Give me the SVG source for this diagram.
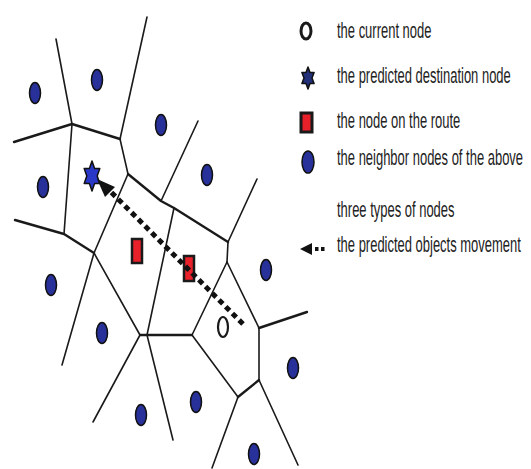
<svg xmlns="http://www.w3.org/2000/svg" width="531" height="469" viewBox="0 0 531 469">
<style>
.thin{stroke:#1a1a1a;stroke-width:1.6;fill:none;stroke-linecap:round;stroke-linejoin:round}
.thick{stroke:#1a1a1a;stroke-width:2.4;fill:none;stroke-linecap:round;stroke-linejoin:round}
.nb{fill:#28309a;stroke:#111;stroke-width:1.5}
.route{fill:#e8202a;stroke:#1a1a1a;stroke-width:2.5}
.cur{fill:none;stroke:#1a1a1a;stroke-width:2.2}
.dest{fill:#2a38c8;stroke:#111;stroke-width:1.5;stroke-linejoin:round}
.lbl{font-family:"Liberation Sans",Arial,sans-serif;font-size:22px;fill:#222}
.dash{stroke:#111;stroke-width:5;stroke-dasharray:5.5 4;fill:none}
</style>
<rect width="531" height="469" fill="#fff"/>
<g id="connectors">
<line class="thin" x1="56" y1="39" x2="72" y2="124"/>
<line class="thin" x1="147" y1="17" x2="120" y2="139"/>
<polyline class="thick" points="14,142 72,124 120,139"/>
<line class="thin" x1="72" y1="124" x2="64" y2="234"/>
<line class="thin" x1="120" y1="139" x2="128" y2="174"/>
<polyline class="thick" points="128,174 161,201 174,208 228,242"/>
<line class="thin" x1="128" y1="174" x2="94" y2="253"/>
<line class="thin" x1="161" y1="201" x2="198" y2="121"/>
<line class="thin" x1="257" y1="179" x2="228" y2="242"/>
<line class="thin" x1="174" y1="208" x2="147" y2="335"/>
<polyline class="thick" points="15,220 64,234 94,253"/>
<line class="thin" x1="94" y1="253" x2="62" y2="365"/>
<line class="thin" x1="94" y1="253" x2="140" y2="335"/>
<line class="thick" x1="140" y1="335" x2="192" y2="335"/>
<line class="thin" x1="140" y1="335" x2="93" y2="422"/>
<line class="thin" x1="147" y1="335" x2="173" y2="440"/>
<line class="thin" x1="192" y1="335" x2="227" y2="262"/>
<line class="thin" x1="227" y1="262" x2="228" y2="242"/>
<line class="thin" x1="227" y1="262" x2="259" y2="328"/>
<line class="thick" x1="259" y1="328" x2="307" y2="312"/>
<line class="thin" x1="259" y1="328" x2="259" y2="380"/>
<line class="thin" x1="192" y1="335" x2="238" y2="397"/>
<line class="thick" x1="238" y1="397" x2="259" y2="380"/>
<line class="thin" x1="238" y1="397" x2="212" y2="468"/>
<line class="thin" x1="259" y1="380" x2="298" y2="465"/>
</g>
<g id="neighbors">
<ellipse class="nb" cx="35" cy="93" rx="5.5" ry="10.5"/>
<ellipse class="nb" cx="97" cy="80" rx="5.5" ry="10.5"/>
<ellipse class="nb" cx="161" cy="125" rx="5.5" ry="10.5"/>
<ellipse class="nb" cx="207" cy="175" rx="5.5" ry="10.5"/>
<ellipse class="nb" cx="43" cy="187" rx="5.5" ry="10.5"/>
<ellipse class="nb" cx="51" cy="285" rx="5.5" ry="10.5"/>
<ellipse class="nb" cx="102" cy="333" rx="5.5" ry="10.5"/>
<ellipse class="nb" cx="141" cy="415" rx="5.5" ry="10.5"/>
<ellipse class="nb" cx="196" cy="402" rx="5.5" ry="10.5"/>
<ellipse class="nb" cx="266" cy="270" rx="5.5" ry="10.5"/>
<ellipse class="nb" cx="293" cy="368" rx="5.5" ry="10.5"/>
<ellipse class="nb" cx="254" cy="454" rx="5.5" ry="10.5"/>
</g>
<g id="route-nodes">
<rect class="route" x="132" y="239" width="10" height="24"/>
<rect class="route" x="184" y="256" width="10" height="25"/>
</g>
<g id="current-node">
<ellipse class="cur" cx="223" cy="327" rx="5" ry="10"/>
</g>
<g id="destination-node">
<polygon class="dest" points="92,161 94.6,168.5 99.8,168.5 97.2,176 99.8,183.5 94.6,183.5 92,191 89.4,183.5 84.2,183.5 86.8,176 84.2,168.5 89.4,168.5"/>
</g>
<g id="movement-arrow">
<line class="dash" x1="243" y1="324" x2="111" y2="192"/>
<polygon points="97,179 115,187 105,197" fill="#111"/>
</g>
<g id="legend">
<ellipse class="cur" cx="306" cy="31" rx="5" ry="8" style="stroke-width:3"/>
<polygon class="dest" points="308,67 310,72.5 314.1,72.5 312,78 314.1,83.5 310,83.5 308,89 306,83.5 301.9,83.5 304,78 301.9,72.5 306,72.5" style="fill:#22307a"/>
<rect class="route" x="301" y="113" width="11" height="19" style="stroke-width:3"/>
<ellipse class="nb" cx="308" cy="162" rx="6" ry="11"/>
<polygon points="300,249 312,243 312,255" fill="#111"/>
<line x1="315" y1="249" x2="325" y2="249" stroke="#111" stroke-width="4" stroke-dasharray="3.5 2.5"/>
<g transform="translate(337,0) scale(0.59,1)">
<text class="lbl" x="0" y="38">the current node</text>
<text class="lbl" x="0" y="83">the predicted destination node</text>
<text class="lbl" x="0" y="128">the node on the route</text>
<text class="lbl" x="0" y="165">the neighbor nodes of the above</text>
<text class="lbl" x="0" y="217">three types of nodes</text>
<text class="lbl" x="0" y="252">the predicted objects movement</text>
</g>
</g>
</svg>
